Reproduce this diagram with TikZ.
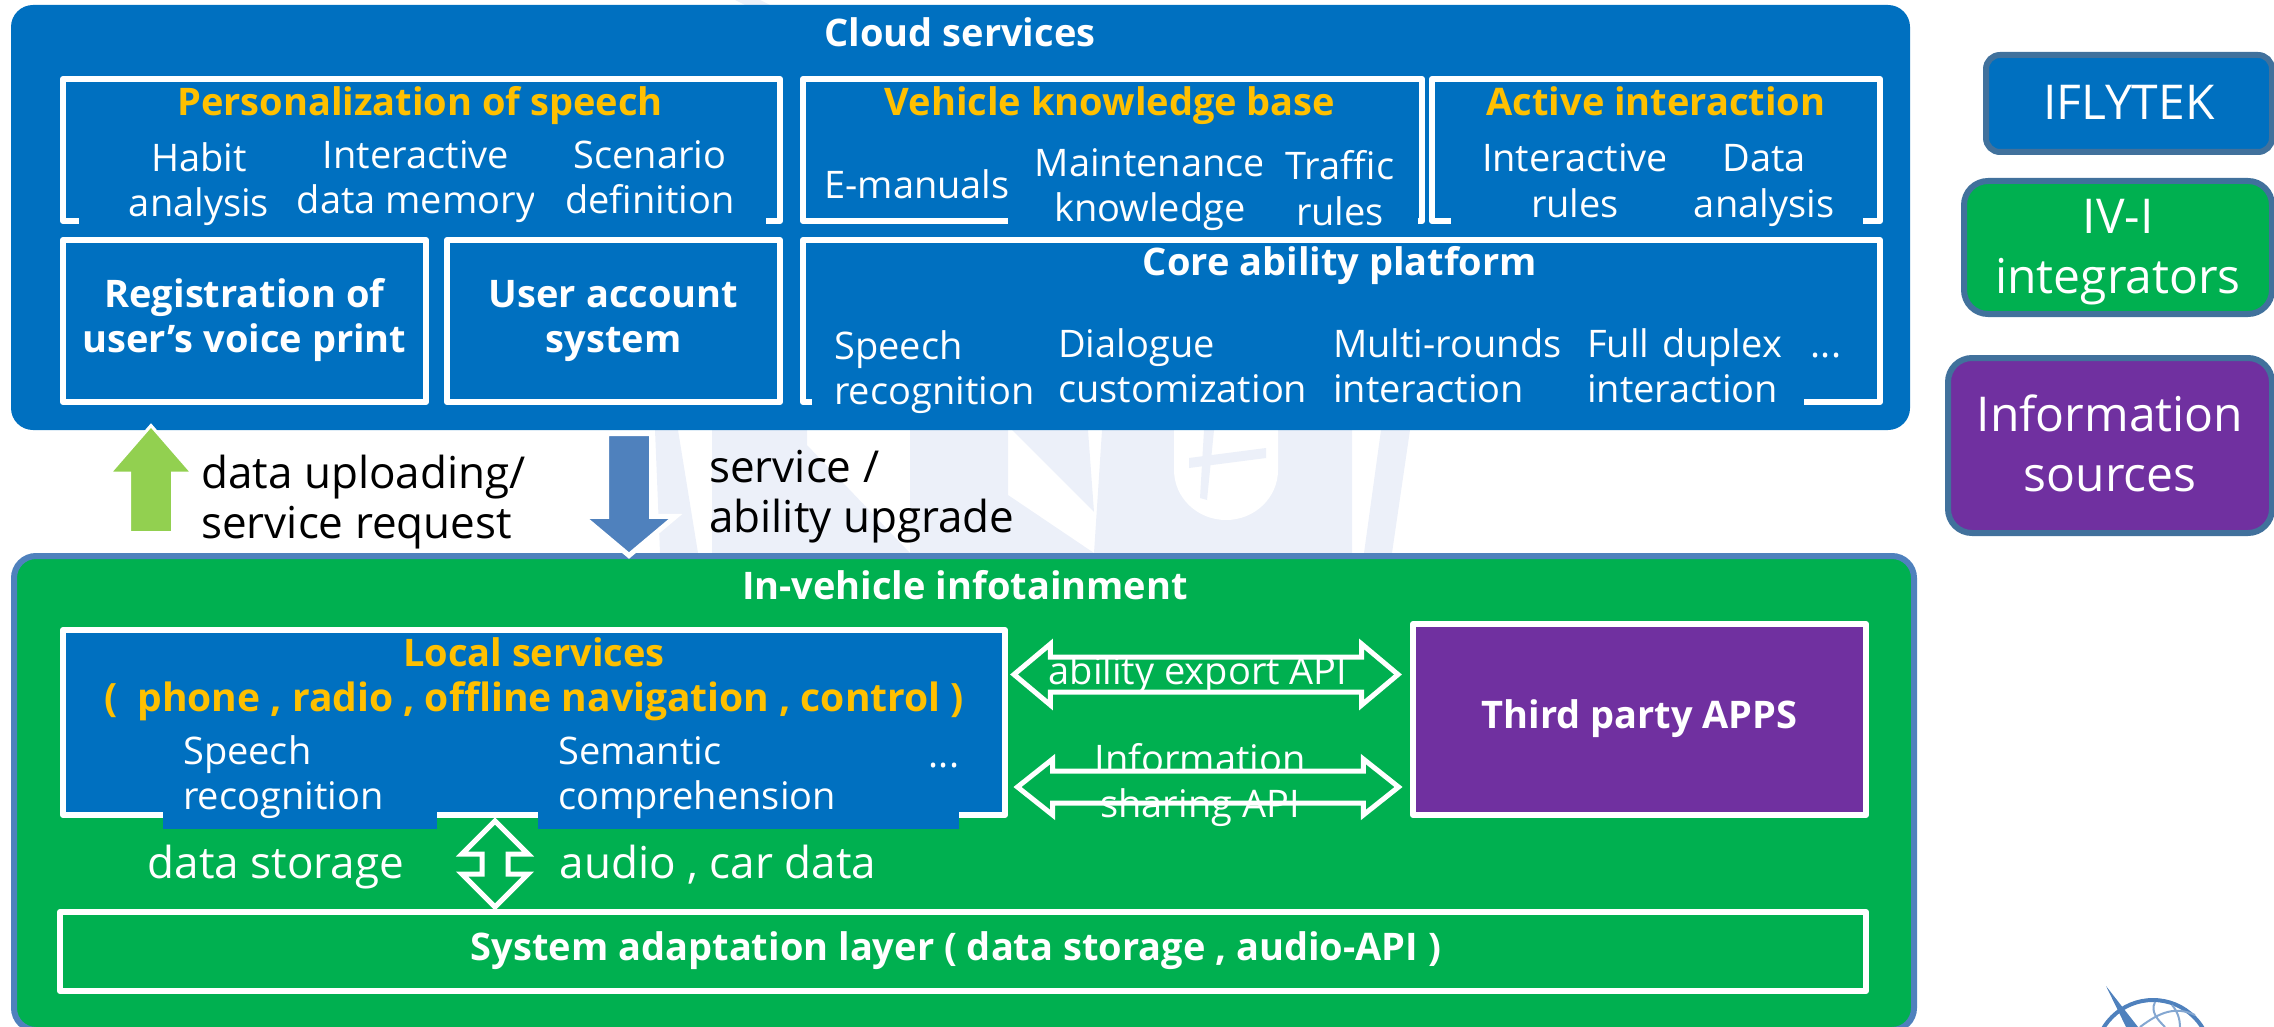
\documentclass[tikz,border=0pt]{standalone}
\usepackage{fontspec}
\setmainfont{Open Sans}
\usetikzlibrary{shapes.arrows}
\definecolor{cloudblue}{HTML}{0070C0}
\definecolor{cargreen}{HTML}{00B050}
\definecolor{appspurple}{HTML}{7030A0}
\definecolor{titlegold}{HTML}{FFC000}
\definecolor{downblue}{HTML}{4F81BD}
\definecolor{upgreen}{HTML}{92D050}
\definecolor{edgeblue}{HTML}{41719C}
\definecolor{markpale}{HTML}{ECF0F9}
\newcommand{\lstrut}{\rule[-14pt]{0pt}{60pt}}
\tikzset{
	bodyfont/.style={font=\fontsize{38}{45}\selectfont},
	boldfont/.style={font=\fontsize{38}{45}\selectfont\bfseries},
	bigfont/.style={font=\fontsize{44}{50}\selectfont},
	legendfont/.style={font=\fontsize{48}{60}\selectfont},
	panel/.style={
		draw=white,
		line width=6pt,
		rectangle,
		inner sep=0pt,
		line join=round,
		text=white,
		align=center,
		boldfont,
	},
	layer/.style={
		rectangle,
		inner sep=0pt,
		rounded corners=22pt,
	},
	legendbox/.style={
		draw=edgeblue,
		line width=6pt,
		rectangle,
		inner sep=0pt,
		text=white,
		align=center,
		legendfont,
	},
	heading/.style={
		text=white,
		inner sep=0pt,
		align=center,
		boldfont,
	},
	goldhead/.style={
		heading,
		text=titlegold,
	},
	item/.style={
		fill=cloudblue,
		text=white,
		inner sep=0pt,
		align=center,
		bodyfont,
	},
	rowitem/.style={
		item,
		anchor=west,
		align=left,
		inner xsep=22pt,
	},
	plain/.style={
		text=white,
		inner sep=0pt,
		align=center,
		bodyfont,
	},
	blacklabel/.style={
		anchor=west,
		inner sep=0pt,
		align=left,
		bigfont,
	},
	linkarrow/.style={
		draw=white,
		line width=5pt,
		fill=cargreen,
		double arrow,
		double arrow tip angle=90,
		inner xsep=0pt,
	},
	flowarrow/.style={
		draw=white,
		line width=3pt,
		single arrow,
		anchor=tail,
		inner xsep=0pt,
		inner ysep=20pt,
		rotate=#1,
	},
}
\begin{document}
\begin{tikzpicture}[x=1pt,y=-1pt]
	\useasboundingbox (0,0) rectangle (2274,1027);

	% watermark behind the layers
	\fill[markpale] (655,430) -- (678,430) -- (698,553) -- (660,553) -- cycle;
	\fill[markpale] (712,430) -- (807,430) -- (807,445) -- (910,553) -- (712,553) -- cycle;
	\fill[markpale] (910,430) -- (1008,430) -- (1008,495) -- (1094,553) -- (910,553) -- cycle;
	\fill[markpale] (1012,430) -- (1088,430) -- (1094,512) -- cycle;
	\fill[markpale] (1102,430) -- (1352,430) -- (1352,553) -- (1094,553) -- cycle;
	\fill[white] (1174,430) -- (1174,470) arc[start angle=180,end angle=360,x radius=52,y radius=-50] -- (1278,430) -- cycle;
	\fill[markpale] (1204,430) -- (1214,430) -- (1207,500) -- (1200,498) -- cycle;
	\fill[markpale] (1189,458) -- (1266,448) -- (1266,458) -- (1189,468) -- cycle;
	\fill[markpale] (1381,430) -- (1410,430) -- (1392,553) -- (1364,553) -- cycle;
	\fill[markpale] (735,0) -- (760,0) -- (770,5) -- (745,5) -- cycle;

	% the two layers
	\node[layer,fill=cloudblue,minimum width=1899pt,minimum height=425pt] (cloud) at (960.5,217.5) {};
	\node[layer,fill=cargreen,draw=downblue,line width=6pt,minimum width=1900pt,minimum height=474pt] (car) at (964,793) {};
	\node[heading] (cloudtitle) at (960,37.5) {\strut Cloud services};
	\node[heading] (cartitle) at (965,590) {\strut In-vehicle infotainment};

	% personalization panel
	\node[panel,minimum width=717pt,minimum height=142pt] (person) at (421.5,150) {};
	\node[goldhead] (persontitle) at (420,107) {\strut Personalization of speech};
	\node[item,minimum width=240pt,minimum height=92pt] (habit) at (199,184.5) {\strut Habit\\\strut analysis};
	\node[item,minimum width=298pt,minimum height=96pt] (memory) at (416,182) {\strut Interactive\\\strut data memory};
	\node[item,minimum width=232pt,minimum height=96pt] (scenario) at (650,182) {\strut Scenario\\\strut definition};

	% vehicle knowledge panel
	\node[panel,minimum width=619pt,minimum height=142pt] (vehicle) at (1112.5,150) {};
	\node[goldhead] (vehicletitle) at (1110,107) {\strut Vehicle knowledge base};
	\node[item,minimum width=200pt,minimum height=50pt] (manuals) at (917,189) {\strut E-manuals};
	\node[item,minimum width=285pt,minimum height=90pt] (maintenance) at (1150,190.5) {\strut Maintenance\\\strut knowledge};
	\node[item,minimum width=156pt,minimum height=84pt] (traffic) at (1340,193.5) {\strut Traffic\\\strut rules};

	% active interaction panel
	\node[panel,minimum width=448pt,minimum height=142pt] (active) at (1656,150) {};
	\node[goldhead] (activetitle) at (1656,107) {\strut Active interaction};
	\node[item,minimum width=248pt,minimum height=92pt] (rules) at (1575,185.5) {\strut Interactive\\\strut rules};
	\node[item,minimum width=198pt,minimum height=92pt] (analysis) at (1764,185.5) {\strut Data\\\strut analysis};

	% lower row of the cloud
	\node[panel,minimum width=363pt,minimum height=162pt] (voice) at (244.5,321) {\strut Registration of\\\strut user's voice print};
	\node[panel,minimum width=333pt,minimum height=162pt] (account) at (613.5,321) {\strut User account\\\strut system};
	\node[panel,minimum width=1077pt,minimum height=162pt] (core) at (1341.5,321) {};
	\node[heading] (coretitle) at (1340,266) {\strut Core ability platform};
	\node[rowitem,text width=202pt] (recognition) at (812,372.5) {\strut Speech\\\strut recognition};
	\node[rowitem,text width=231pt] (dialogue) at (1036,371) {\strut Dialogue\\\strut customization};
	\node[rowitem,text width=240pt] (rounds) at (1311,371) {\strut Multi-rounds\\\strut interaction};
	\node[rowitem,text width=195pt] (duplex) at (1565,371) {\strut Full duplex\\\strut interaction};
	\node[plain] (coredots) at (1826,348) {\strut ...};

	% arrows between the layers
	\node[flowarrow=90,fill=upgreen,minimum height=107pt,single arrow head extend=20pt,single arrow tip angle=82] (upload) at (151,534) {};
	\node[flowarrow=-90,fill=downblue,line width=5pt,minimum height=122pt,single arrow head extend=24pt,single arrow tip angle=100] (upgrade) at (629,431) {};
	\node[blacklabel] (uploadlabel) at (201,503) {\strut data uploading/\\\strut service request};
	\node[blacklabel] (upgradelabel) at (709,497.5) {\strut service /\\\strut ability upgrade};

	% local services
	\node[panel,fill=cloudblue,minimum width=942pt,minimum height=185pt] (local) at (534,722.5) {};
	\node[goldhead] (localtitle) at (534,680) {\strut Local services\\\fontsize{39}{45}\selectfont\strut (\ \ phone , radio , offline navigation , control )};
	\node[rowitem,text width=234pt,inner xsep=20pt,minimum height=101pt] (speech) at (163,778) {\strut Speech\\\strut recognition};
	\node[rowitem,text width=381pt,inner xsep=20pt,minimum height=101pt] (semantic) at (538,778) {\strut Semantic\\\strut comprehension};
	\node[plain] (localdots) at (944,758) {\strut ...};

	% third party and its two APIs
	\node[panel,fill=appspurple,minimum width=453pt,minimum height=191pt] (apps) at (1639.5,719.5) {\raisebox{3pt}{\strut Third party APPS}};
	\node[linkarrow,minimum height=384pt,inner ysep=15pt,double arrow head extend=13pt,double arrow tip angle=80] (export) at (1206,674.5) {};
	\node[linkarrow,minimum height=381pt,inner ysep=13.5pt,double arrow head extend=12pt,double arrow tip angle=77] (sharing) at (1208,787) {};
	\node[plain] (exportlabel) at (1198,675) {\strut ability export API};
	\node[plain] (sharinglabel) at (1200,785.5) {\strut Information\\\strut sharing API};

	% adaptation layer
	\node[panel,minimum width=1806pt,minimum height=79pt] (adapt) at (963,951.5) {};
	\node[heading] (adapttitle) at (956,951.5) {\strut System adaptation layer ( data storage , audio-API )};
	\node[linkarrow,rotate=90,minimum height=86pt,inner ysep=10.5pt,double arrow head extend=20pt] (storage) at (495,864) {};
	\node[plain,bigfont] (storagelabel) at (276,868) {\strut data storage};
	\node[plain,bigfont] (audiolabel) at (718,868) {\strut audio , car data};

	% legend
	\node[legendbox,fill=cloudblue,rounded corners=14pt,minimum width=286pt,minimum height=97pt] (iflytek) at (2129,103.5) {\lstrut IFLYTEK};
	\node[legendbox,fill=cargreen,rounded corners=24pt,minimum width=308pt,minimum height=133pt] (integrators) at (2118,247.5) {\lstrut IV-I\\\lstrut integrators};
	\node[legendbox,fill=appspurple,rounded corners=24pt,minimum width=324pt,minimum height=175pt] (sources) at (2110,445.5) {\lstrut Information\\\lstrut sources};

	% corner logo
	\draw[downblue,line width=4pt] (2153,1058) circle[radius=58];
	\fill[downblue] (2106,986) -- (2138,1027) -- (2126,1027) -- cycle;
	\draw[downblue!70,line width=2pt] (2140,1027) .. controls (2160,1012) and (2175,1006) .. (2195,1015);
	\draw[downblue!70,line width=2pt] (2155,1002) .. controls (2150,1012) and (2158,1020) .. (2165,1027);
	\draw[downblue!70,line width=2pt] (2172,1005) .. controls (2178,1012) and (2180,1020) .. (2180,1027);
\end{tikzpicture}
\end{document}
